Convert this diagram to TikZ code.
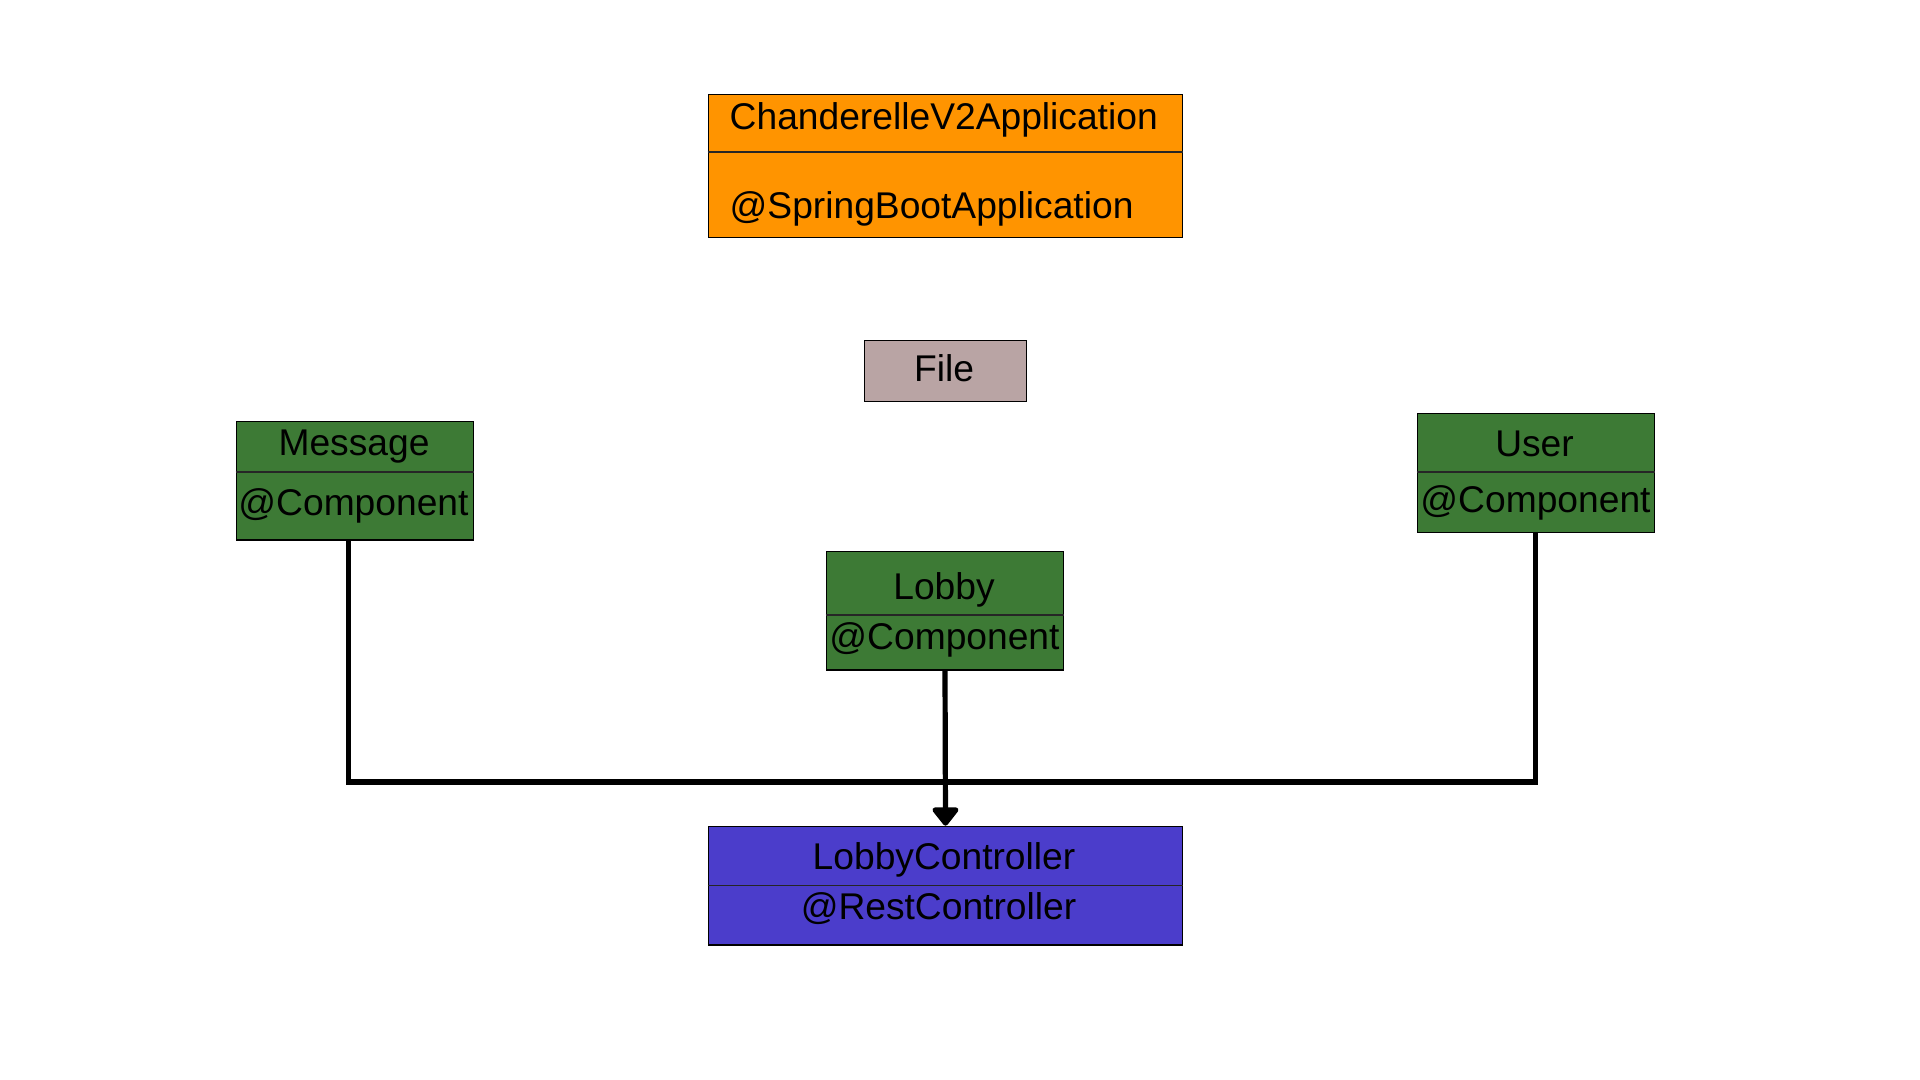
\documentclass[tikz,border=0pt]{standalone}
\usepackage{fontspec}
\setmainfont{Liberation Sans}
\usetikzlibrary{arrows.meta}
\definecolor{apporange}{RGB}{255,148,0}
\definecolor{compgreen}{RGB}{61,122,53}
\definecolor{filegray}{RGB}{185,164,164}
\definecolor{ctrlblue}{RGB}{75,61,203}
\tikzset{
  box/.style={draw=black, line width=0.65pt, inner sep=0pt, minimum width=#1},
  lbl/.style={anchor=base, inner sep=0pt, font=\fontsize{18.6}{22}\selectfont},
  divider/.style={draw=black!85, line width=0.6pt},
  conn/.style={draw=black, line width=2.6pt},
}
\begin{document}
\begin{tikzpicture}[x=0.5pt,y=-0.5pt]
\useasboundingbox[fill=white] (0,0) rectangle (1920,1080);
% boxes
\node[box=237.2pt, minimum height=71.5pt, fill=apporange] (app) at (945.5,165.8) {};
\node[box=81.2pt, minimum height=30.5pt, fill=filegray] (file) at (945.5,370.8) {};
\node[box=118.7pt, minimum height=59.35pt, fill=compgreen] (msg) at (355,480.7) {};
\node[box=118.7pt, minimum height=59.5pt, fill=compgreen] (usr) at (1536,472.8) {};
\node[box=118.7pt, minimum height=59.35pt, fill=compgreen] (lobby) at (945,610.7) {};
\node[box=237.2pt, minimum height=59.35pt, fill=ctrlblue] (ctrl) at (945.5,885.7) {};
% dividers
\draw[divider] (app.west |- 0,152) -- (app.east |- 0,152);
\draw[divider] (msg.west |- 0,472) -- (msg.east |- 0,472);
\draw[divider] (usr.west |- 0,472) -- (usr.east |- 0,472);
\draw[divider] (lobby.west |- 0,615) -- (lobby.east |- 0,615);
\draw[divider] (ctrl.west |- 0,885.7) -- (ctrl.east |- 0,885.7);
% texts
\node[lbl, anchor=base west] (appname) at (729.3,130) {ChanderelleV2Application};
\node[lbl, anchor=base west] (appann) at (729.3,218.3) {@SpringBootApplication};
\node[lbl] (filename) at (944,381.7) {File};
\node[lbl] (msgname) at (354,455) {Message};
\node[lbl] (msgann) at (353.5,515) {@Component};
\node[lbl] (usrname) at (1534.5,456.7) {User};
\node[lbl] (usrann) at (1535.5,512.7) {@Component};
\node[lbl] (lobbyname) at (944,599.3) {Lobby};
\node[lbl] (lobbyann) at (944.5,649.3) {@Component};
\node[lbl] (ctrlname) at (944,869.3) {LobbyController};
\node[lbl] (ctrlann) at (938.5,919.3) {@RestController};
% connectors
\coordinate (jm) at (348.3,782);
\coordinate (ju) at (1535.3,782);
\draw[conn, line join=miter] (msg.south -| jm) -- (jm) -- (ju) -- (usr.south -| ju);
\draw[conn, -{Triangle[round, length=10pt, width=15pt]}] (lobby.south) -- (ctrl.north);
\end{tikzpicture}
\end{document}
